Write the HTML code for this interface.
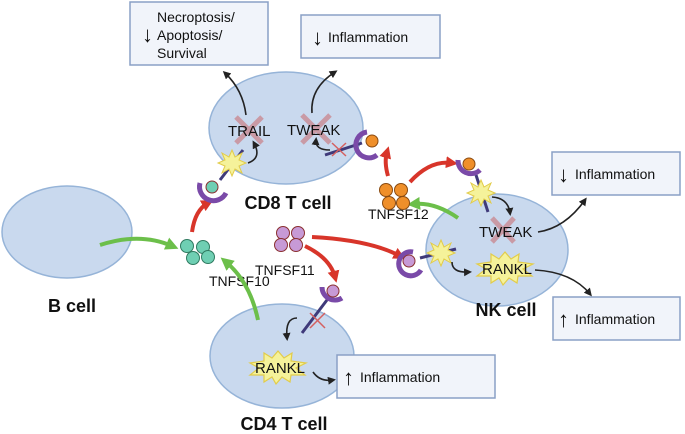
<!DOCTYPE html>
<html><head><meta charset="utf-8"><style>
body{margin:0;background:#fff}
svg{display:block;font-family:"Liberation Sans",Arial,sans-serif}
</style></head><body>
<svg width="685" height="434" viewBox="0 0 685 434" xmlns="http://www.w3.org/2000/svg">
<defs>
<marker id="ab" markerWidth="8" markerHeight="8" refX="5" refY="4" orient="auto" markerUnits="userSpaceOnUse"><path d="M0,0 L8,4 L0,8 z" fill="#222"/></marker>
<marker id="ar" markerWidth="12" markerHeight="12" refX="6" refY="6" orient="auto" markerUnits="userSpaceOnUse"><path d="M0,0 L12,6 L0,12 z" fill="#d8352a"/></marker>
<marker id="ag" markerWidth="13" markerHeight="13" refX="6" refY="6.5" orient="auto" markerUnits="userSpaceOnUse"><path d="M0,0 L13,6.5 L0,13 z" fill="#6cbf4a"/></marker>
<g id="star"><polygon points="0,-13 3,-6 10,-10 7,-3 14,0 7,3 10,10 3,6 0,13 -3,6 -10,10 -7,3 -14,0 -7,-3 -10,-10 -3,-6" fill="#f5f29a" stroke="#e2cc4a" stroke-width="1"/></g>
<g id="bigstar"><polygon points="0,-16 6,-9 14,-14 13,-6 28,-4 18,1 27,8 13,8 12,15 4,10 -2,17 -6,10 -14,15 -14,8 -28,8 -19,1 -28,-4 -14,-6 -14,-14 -6,-9" fill="#f5f29a" stroke="#e2cc4a" stroke-width="1.2"/></g>
</defs>

<g fill="#c9d9ee" stroke="#96b4d8" stroke-width="1.5">
<ellipse cx="67" cy="232" rx="65" ry="46"/>
<ellipse cx="286" cy="128" rx="77" ry="56"/>
<ellipse cx="497" cy="250" rx="71" ry="56"/>
<ellipse cx="282" cy="356" rx="72" ry="52"/>
</g>

<g fill="#f1f4fa" stroke="#8aa0c6" stroke-width="1.5">
<rect x="130" y="2" width="138" height="63"/>
<rect x="301" y="15" width="139" height="43"/>
<rect x="552" y="152" width="128" height="43"/>
<rect x="553" y="297" width="127" height="43"/>
<rect x="337" y="355" width="158" height="43"/>
</g>
<g font-size="14" fill="#111">
<text x="157" y="22">Necroptosis/</text>
<text x="157" y="40">Apoptosis/</text>
<text x="157" y="58">Survival</text>
<text x="142" y="42" font-size="22">↓</text>
<text x="312" y="45" font-size="22">↓</text><text x="328" y="42">Inflammation</text>
<text x="558" y="182" font-size="22">↓</text><text x="575" y="179">Inflammation</text>
<text x="558" y="327" font-size="22">↑</text><text x="575" y="324">Inflammation</text>
<text x="343" y="385" font-size="22">↑</text><text x="360" y="382">Inflammation</text>
</g>

<g font-weight="bold" font-size="18" fill="#111" text-anchor="middle">
<text x="72" y="312">B cell</text>
<text x="288" y="209">CD8 T cell</text>
<text x="506" y="316">NK cell</text>
<text x="284" y="430">CD4 T cell</text>
</g>
<g font-size="14" fill="#111">
<text x="209" y="286">TNFSF10</text>
<text x="368" y="219">TNFSF12</text>
<text x="255" y="275">TNFSF11</text>
</g>

<g fill="none" stroke="#6cbf4a" stroke-width="4">
<path d="M100,245 Q140,232 172,246" marker-end="url(#ag)"/>
<path d="M258,320 Q250,282 226,262" marker-end="url(#ag)"/>
<path d="M458,218 Q435,202 414,204" marker-end="url(#ag)"/>
</g>
<g fill="none" stroke="#d8352a" stroke-width="4">
<path d="M192,232 Q195,210 208,203" marker-end="url(#ar)"/>
<path d="M388,176 Q384,162 387,152" marker-end="url(#ar)"/>
<path d="M410,182 Q430,160 452,163" marker-end="url(#ar)"/>
<path d="M312,237 Q370,240 400,256" marker-end="url(#ar)"/>
<path d="M305,246 Q330,258 335,277" marker-end="url(#ar)"/>
</g>

<g fill="#6fcfb3" stroke="#2f7a60" stroke-width="1">
<circle cx="187" cy="246" r="6.5"/><circle cx="203" cy="247" r="6.5"/><circle cx="193" cy="258" r="6.5"/><circle cx="208" cy="257" r="6.5"/>
</g>
<g fill="#c79ad6" stroke="#8a3030" stroke-width="1">
<circle cx="283" cy="233" r="6.5"/><circle cx="298" cy="233" r="6.5"/><circle cx="281" cy="245" r="6.5"/><circle cx="296" cy="245" r="6.5"/>
</g>
<g fill="#ef8f2a" stroke="#8a4a10" stroke-width="1">
<circle cx="386" cy="190" r="6.5"/><circle cx="401" cy="190" r="6.5"/><circle cx="389" cy="203" r="6.5"/><circle cx="403" cy="203" r="6.5"/>
</g>

<g stroke="#c98b94" stroke-width="5" opacity="0.8">
<path d="M236,117 L262,143 M262,117 L236,143"/>
<path d="M302,115 L330,143 M330,115 L302,143"/>
</g>
<text x="228" y="136" font-size="15" fill="#111">TRAIL</text>
<text x="287" y="135" font-size="15" fill="#111">TWEAK</text>
<path d="M246,115 Q243,90 225,73" fill="none" stroke="#222" stroke-width="1.6" marker-end="url(#ab)"/>
<path d="M312,113 Q310,88 335,72" fill="none" stroke="#222" stroke-width="1.6" marker-end="url(#ab)"/>
<line x1="220" y1="180" x2="243" y2="150" stroke="#3f3a7a" stroke-width="3"/>
<use href="#star" x="232" y="163"/>
<path d="M248,163 Q262,158 254,143" fill="none" stroke="#222" stroke-width="1.6" marker-end="url(#ab)"/>
<path d="M200,183 A14,14 0 0 0 226,193" fill="none" stroke="#7a4aa8" stroke-width="5"/>
<circle cx="212" cy="187" r="6" fill="#6fcfb3" stroke="#8a3030"/>
<line x1="325" y1="155" x2="362" y2="143" stroke="#3f3a7a" stroke-width="3"/>
<path d="M332,143 L346,156 M346,143 L332,156" stroke="#d46060" stroke-width="1.5"/>
<path d="M330,150 Q315,150 316,140" fill="none" stroke="#222" stroke-width="1.6" marker-end="url(#ab)"/>
<path d="M367,132 A13,13 0 1 0 377,155" fill="none" stroke="#7a4aa8" stroke-width="5"/>
<circle cx="372" cy="141" r="6" fill="#ef8f2a" stroke="#8a4a10"/>

<line x1="476" y1="175" x2="488" y2="212" stroke="#3f3a7a" stroke-width="3"/>
<use href="#star" x="481" y="193"/>
<path d="M458,160 A13,13 0 0 0 480,170" fill="none" stroke="#7a4aa8" stroke-width="5"/>
<circle cx="469" cy="164" r="6" fill="#ef8f2a" stroke="#8a4a10"/>
<path d="M492,197 Q508,198 510,213" fill="none" stroke="#222" stroke-width="1.6" marker-end="url(#ab)"/>
<path d="M492,218 L514,242 M514,218 L492,242" stroke="#c98b94" stroke-width="5" opacity="0.8"/>
<text x="479" y="237" font-size="15" fill="#111">TWEAK</text>
<path d="M538,232 Q565,228 585,200" fill="none" stroke="#222" stroke-width="1.6" marker-end="url(#ab)"/>
<line x1="420" y1="258" x2="456" y2="249" stroke="#3f3a7a" stroke-width="3"/>
<use href="#star" x="441" y="253"/>
<path d="M413,252 A12,12 0 1 0 421,270" fill="none" stroke="#7a4aa8" stroke-width="5"/>
<circle cx="409" cy="261" r="6" fill="#c79ad6" stroke="#8a3030"/>
<path d="M452,262 Q452,273 469,272" fill="none" stroke="#222" stroke-width="1.6" marker-end="url(#ab)"/>
<use href="#bigstar" x="505" y="268"/>
<text x="482" y="274" font-size="15" fill="#111">RANKL</text>
<path d="M535,270 Q572,272 590,294" fill="none" stroke="#222" stroke-width="1.6" marker-end="url(#ab)"/>

<line x1="302" y1="333" x2="330" y2="296" stroke="#3f3a7a" stroke-width="3"/>
<path d="M310,313 L325,328 M325,313 L310,328" stroke="#d46060" stroke-width="1.5"/>
<path d="M322,287 A13,13 0 0 0 342,298" fill="none" stroke="#7a4aa8" stroke-width="5"/>
<circle cx="333" cy="291" r="6" fill="#c79ad6" stroke="#8a3030"/>
<path d="M297,318 Q285,318 287,338" fill="none" stroke="#222" stroke-width="1.6" marker-end="url(#ab)"/>
<use href="#bigstar" x="278" y="367"/>
<text x="255" y="373" font-size="15" fill="#111">RANKL</text>
<path d="M313,372 Q320,382 333,380" fill="none" stroke="#222" stroke-width="1.6" marker-end="url(#ab)"/>
</svg>
</body></html>
